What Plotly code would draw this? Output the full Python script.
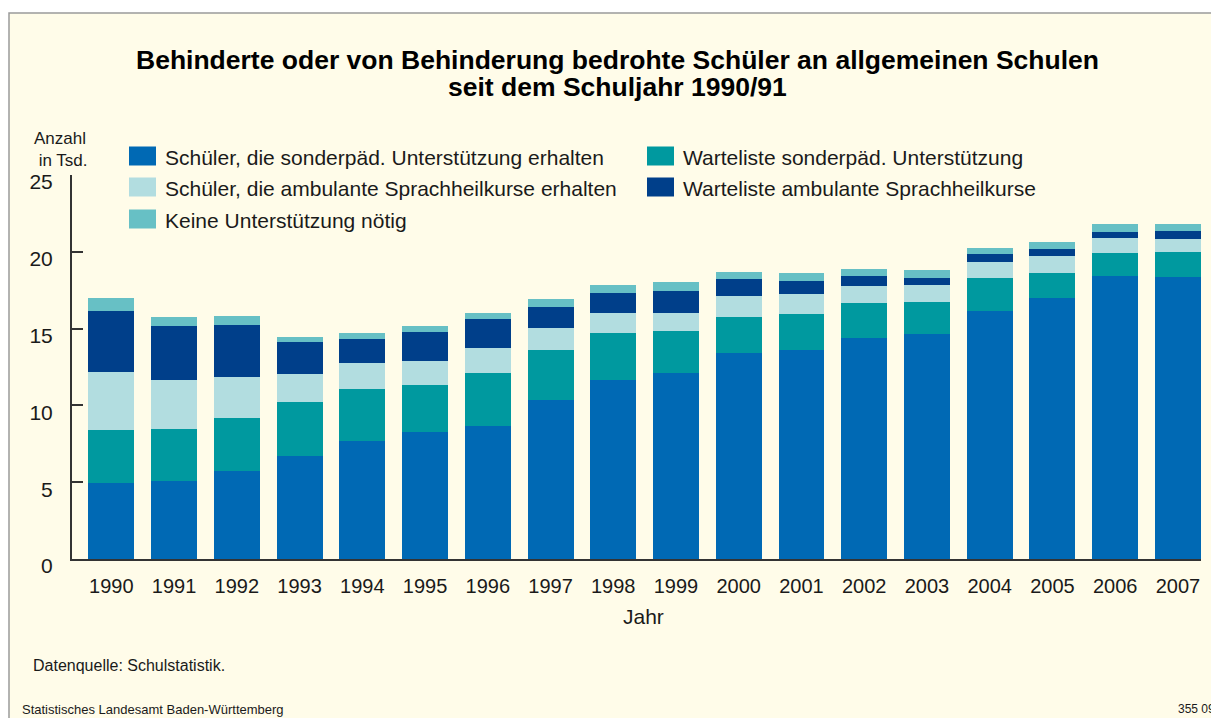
import plotly.graph_objects as go

# ---- data (thousands of pupils) ----
years = [1990, 1991, 1992, 1993, 1994, 1995, 1996, 1997, 1998, 1999,
         2000, 2001, 2002, 2003, 2004, 2005, 2006, 2007]
sonderpaed = [4.93, 5.06, 5.71, 6.69, 7.67, 8.25, 8.64, 10.34, 11.64, 12.10,
              13.40, 13.60, 14.38, 14.64, 16.14, 16.98, 18.42, 18.35]
warteliste_sonderpaed = [3.45, 3.39, 3.46, 3.52, 3.39, 3.06, 3.45, 3.26, 3.06, 2.74,
                         2.35, 2.35, 2.28, 2.08, 2.15, 1.63, 1.50, 1.63]
ambulant = [3.78, 3.19, 2.67, 1.82, 1.69, 1.56, 1.63, 1.43, 1.30, 1.17,
            1.37, 1.30, 1.11, 1.11, 1.04, 1.11, 0.97, 0.85]
warteliste_ambulant = [3.97, 3.52, 3.39, 2.09, 1.56, 1.89, 1.89, 1.37, 1.30, 1.43,
                       1.11, 0.85, 0.65, 0.46, 0.52, 0.46, 0.39, 0.52]
keine = [0.83, 0.59, 0.59, 0.32, 0.39, 0.39, 0.39, 0.52, 0.52, 0.59,
         0.46, 0.52, 0.46, 0.52, 0.39, 0.45, 0.52, 0.45]

series = [
    ("Schüler, die sonderpäd. Unterstützung erhalten", sonderpaed, "#0069B4"),
    ("Warteliste sonderpäd. Unterstützung", warteliste_sonderpaed, "#00999F"),
    ("Schüler, die ambulante Sprachheilkurse erhalten", ambulant, "#B2DDE0"),
    ("Warteliste ambulante Sprachheilkurse", warteliste_ambulant, "#003F8A"),
    ("Keine Unterstützung nötig", keine, "#67C0C5"),
]

# page body has an 8px margin -> figure is 8px smaller, coordinates below are page pixels
OFF = 8
W, H = 1219 - OFF, 718 - OFF
L, R, T, B = 72, 1201, 175, 559
CREAM = "#FFFCE9"
FONT = "Liberation Sans"
TXT = "#1a1a1a"


def px(x):
    return (x - L) / (R - L)


def py(y):
    return (B - y) / (B - T)


fig = go.Figure()
for name, vals, col in series:
    fig.add_trace(go.Bar(x=years, y=vals, name=name, marker_color=col,
                         marker_line_width=0, showlegend=False))

shapes = [
    dict(type="rect", xref="paper", yref="paper", x0=px(9), x1=px(1260),
         y0=py(760), y1=py(13), fillcolor=CREAM,
         line=dict(color="#9A9A9A", width=1.5), layer="below"),
]
annotations = []

# manual legend (large swatches as in the original)
legend_pos = [
    (129, 156, 0), (647, 156, 1),
    (129, 187, 2), (647, 187, 3),
    (129, 219, 4),
]
for (x0, yc, idx) in legend_pos:
    name, _, col = series[idx]
    shapes.append(dict(type="rect", xref="paper", yref="paper",
                       x0=px(x0), x1=px(x0 + 27), y0=py(yc + 9.5), y1=py(yc - 9.5),
                       fillcolor=col, line=dict(width=0)))
    annotations.append(dict(xref="paper", yref="paper", x=px(x0 + 34), y=py(yc + 1),
                            xanchor="left", yanchor="middle", showarrow=False,
                            text=name, font=dict(family=FONT, size=21, color=TXT)))

annotations += [
    dict(xref="paper", yref="paper", x=px(617), y=py(60), xanchor="center",
         yanchor="middle", showarrow=False,
         text="<b>Behinderte oder von Behinderung bedrohte Schüler an allgemeinen Schulen</b>",
         font=dict(family=FONT, size=26.5, color="#000000")),
    dict(xref="paper", yref="paper", x=px(617), y=py(87), xanchor="center",
         yanchor="middle", showarrow=False,
         text="<b>seit dem Schuljahr 1990/91</b>",
         font=dict(family=FONT, size=26.5, color="#000000")),
    dict(xref="paper", yref="paper", x=px(32), y=py(149), xanchor="left",
         yanchor="middle", showarrow=False, align="left",
         text="Anzahl<br> in Tsd.", font=dict(family=FONT, size=17, color=TXT)),
    dict(xref="paper", yref="paper", x=px(643), y=py(616), xanchor="center",
         yanchor="middle", showarrow=False, text="Jahr",
         font=dict(family=FONT, size=21, color=TXT)),
    dict(xref="paper", yref="paper", x=px(31), y=py(665), xanchor="left",
         yanchor="middle", showarrow=False, text="Datenquelle: Schulstatistik.",
         font=dict(family=FONT, size=16, color=TXT)),
    dict(xref="paper", yref="paper", x=px(20), y=py(709), xanchor="left",
         yanchor="middle", showarrow=False, text="Statistisches Landesamt Baden-Württemberg",
         font=dict(family=FONT, size=13, color=TXT)),
    dict(xref="paper", yref="paper", x=px(1176), y=py(709), xanchor="left",
         yanchor="middle", showarrow=False, text="355 09",
         font=dict(family=FONT, size=12, color=TXT)),
]

fig.update_layout(
    width=W, height=H, autosize=False,
    margin=dict(l=L - OFF, r=W - (R - OFF), t=T - OFF, b=H - (B - OFF), pad=0),
    paper_bgcolor="#FFFFFF", plot_bgcolor=CREAM,
    barmode="stack", bargap=0.267,
    shapes=shapes, annotations=annotations,
    font=dict(family=FONT, color=TXT),
    xaxis=dict(range=[1989.374, 2007.367], tickmode="array", tickvals=years,
               ticktext=[str(y) for y in years], showgrid=False, zeroline=False,
               showline=True, linecolor="#333333", linewidth=2, ticks="",
               tickfont=dict(family=FONT, size=20, color=TXT),
               ticklabelstandoff=8),
    yaxis=dict(range=[0, 25], tickvals=[0, 5, 10, 15, 20, 25], showgrid=False,
               zeroline=False, showline=True, linecolor="#333333", linewidth=2,
               ticks="inside", ticklen=11, tickwidth=2, tickcolor="#333333",
               tickfont=dict(family=FONT, size=21, color=TXT),
               ticklabelstandoff=13, ticklabelshift=7),
)

fig.write_html("out.html")
